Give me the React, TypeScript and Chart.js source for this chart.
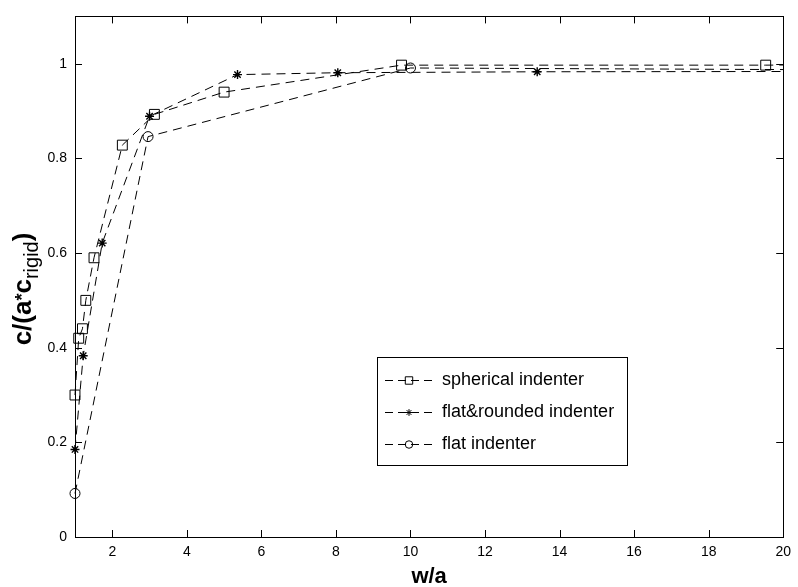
import React, { useEffect, useRef } from "react";
import { Chart, registerables } from "chart.js";

Chart.register(...registerables);

// ---- data ----
const seriesLabels = ["spherical indenter", "flat&rounded indenter", "flat indenter"];

const sphericalX = [1.0, 1.1, 1.2, 1.29, 1.51, 2.27, 3.13, 5.0, 9.76, 19.53, 25];
const sphericalY = [0.3, 0.42, 0.44, 0.5, 0.59, 0.828, 0.893, 0.94, 0.997, 0.997, 1.0];

const flatRoundedX = [1.0, 1.22, 1.73, 3.0, 5.36, 8.05, 13.4, 25];
const flatRoundedY = [0.185, 0.383, 0.621, 0.889, 0.977, 0.981, 0.983, 0.984];

const flatX = [1.0, 2.96, 10.0, 25];
const flatY = [0.092, 0.846, 0.991, 0.986];

const xTicks = [2, 4, 6, 8, 10, 12, 14, 16, 18, 20];
const yTicks = [0, 0.2, 0.4, 0.6, 0.8, 1];
const xRange = [1, 20];
const yRange = [0, 1.1];

const xTitle = "w/a";

const FONT = "'Liberation Sans', Arial, Helvetica, sans-serif";

function toPoints(xs: number[], ys: number[]) {
  return xs.map((x, i) => ({ x, y: ys[i] }));
}

function drawMarker(ctx: CanvasRenderingContext2D, style: string, r: number, x: number, y: number) {
  ctx.beginPath();
  if (style === "rect") {
    const s = r * Math.SQRT1_2;
    ctx.rect(x - s, y - s, 2 * s, 2 * s);
  } else if (style === "circle") {
    ctx.arc(x, y, r, 0, Math.PI * 2);
  } else if (style === "star") {
    for (let k = 0; k < 4; k++) {
      const a = (k * Math.PI) / 4;
      ctx.moveTo(x - Math.cos(a) * r, y - Math.sin(a) * r);
      ctx.lineTo(x + Math.cos(a) * r, y + Math.sin(a) * r);
    }
  }
  ctx.stroke();
}

const matlabPlugin = {
  id: "matlabDecor",
  afterDraw(chart: any) {
    const { ctx, chartArea: a, scales } = chart;
    const xs = scales.x;
    const ys = scales.y;
    ctx.save();
    ctx.strokeStyle = "#000";
    ctx.fillStyle = "#000";
    ctx.lineWidth = 1;
    ctx.setLineDash([]);
    // axes box
    ctx.strokeRect(Math.round(a.left) + 0.5, Math.round(a.top) + 0.5, Math.round(a.right - a.left), Math.round(a.bottom - a.top));
    // inward ticks on all four sides
    const tl = 7;
    ctx.beginPath();
    xTicks.forEach((v) => {
      const px = Math.round(xs.getPixelForValue(v)) + 0.5;
      ctx.moveTo(px, a.bottom);
      ctx.lineTo(px, a.bottom - tl);
      ctx.moveTo(px, a.top);
      ctx.lineTo(px, a.top + tl);
    });
    yTicks.forEach((v) => {
      const py = Math.round(ys.getPixelForValue(v)) + 0.5;
      ctx.moveTo(a.left, py);
      ctx.lineTo(a.left + tl, py);
      ctx.moveTo(a.right, py);
      ctx.lineTo(a.right - tl, py);
    });
    ctx.stroke();

    // x title
    ctx.font = `bold 22px ${FONT}`;
    ctx.textAlign = "center";
    ctx.textBaseline = "alphabetic";
    ctx.fillText(xTitle, (a.left + a.right) / 2, 583);

    // y title c/(a^* c_rigid)
    const parts = [
      { text: "c/(a", font: `bold 26px ${FONT}`, dy: 0 },
      { text: "*", font: `bold 18px ${FONT}`, dy: -3 },
      { text: "c", font: `bold 26px ${FONT}`, dy: 0 },
      { text: "rigid", font: `20px ${FONT}`, dy: 7 },
      { text: ")", font: `bold 26px ${FONT}`, dy: 0 },
    ];
    let total = 0;
    parts.forEach((p) => {
      ctx.font = p.font;
      total += ctx.measureText(p.text).width;
    });
    ctx.save();
    ctx.translate(31, 289);
    ctx.rotate(-Math.PI / 2);
    ctx.textAlign = "left";
    let cx = -total / 2;
    parts.forEach((p) => {
      ctx.font = p.font;
      ctx.fillText(p.text, cx, p.dy);
      cx += ctx.measureText(p.text).width;
    });
    ctx.restore();

    // legend box
    const lx = 377;
    const ly = 357;
    const boxW = 250;
    const boxH = 108;
    const rowY = [380, 412, 444];
    const textX = 442;
    ctx.fillStyle = "#fff";
    ctx.fillRect(lx, ly, boxW, boxH);
    ctx.strokeRect(lx + 0.5, ly + 0.5, boxW, boxH);
    ctx.fillStyle = "#000";
    ctx.font = `18px ${FONT}`;
    ctx.textAlign = "left";
    ctx.textBaseline = "middle";
    chart.data.datasets.forEach((ds: any, i: number) => {
      const cy = rowY[i] + 0.5;
      ctx.setLineDash([8, 5]);
      ctx.beginPath();
      ctx.moveTo(385, cy);
      ctx.lineTo(433, cy);
      ctx.stroke();
      ctx.setLineDash([]);
      drawMarker(ctx, ds.pointStyle, ds.pointRadius * 0.75, 409, cy);
      ctx.fillText(ds.label, textX, rowY[i]);
    });
    ctx.restore();
  },
};

export default function App() {
  const canvasRef = useRef<HTMLCanvasElement | null>(null);

  useEffect(() => {
    if (!canvasRef.current) return;
    const common = {
      showLine: true,
      borderColor: "#000",
      borderWidth: 1,
      borderDash: [9, 6],
      tension: 0,
      fill: false,
      pointBorderColor: "#000",
      pointBackgroundColor: "rgba(0,0,0,0)",
      pointBorderWidth: 1,
      clip: { left: 10, top: 10, right: 0, bottom: 10 },
    };
    const chart = new Chart(canvasRef.current, {
      type: "scatter",
      data: {
        datasets: [
          { ...common, label: seriesLabels[0], data: toPoints(sphericalX, sphericalY), pointStyle: "rect", pointRadius: 7 },
          { ...common, label: seriesLabels[1], data: toPoints(flatRoundedX, flatRoundedY), pointStyle: "star", pointRadius: 4.5, pointBorderWidth: 1.4 },
          { ...common, label: seriesLabels[2], data: toPoints(flatX, flatY), pointStyle: "circle", pointRadius: 5 },
        ],
      },
      options: {
        animation: false,
        responsive: false,
        devicePixelRatio: 1,
        layout: { padding: { left: 0, right: 10, top: 7, bottom: 0 } },
        plugins: { legend: { display: false }, tooltip: { enabled: false } },
        events: [],
        scales: {
          x: {
            type: "linear",
            min: xRange[0],
            max: xRange[1],
            grid: { display: false, drawTicks: false },
            border: { display: false },
            afterFit: (s: any) => {
              s.height = 50;
            },
            afterBuildTicks: (s: any) => {
              s.ticks = xTicks.map((v) => ({ value: v }));
            },
            ticks: {
              color: "#000",
              font: { family: FONT, size: 14 },
              padding: 7,
              maxRotation: 0,
              autoSkip: false,
              callback: (v: any) => String(v),
            },
          },
          y: {
            type: "linear",
            min: yRange[0],
            max: yRange[1],
            grid: { display: false, drawTicks: false },
            border: { display: false },
            afterFit: (s: any) => {
              s.width = 75;
            },
            afterBuildTicks: (s: any) => {
              s.ticks = yTicks.map((v) => ({ value: v }));
            },
            ticks: {
              color: "#000",
              font: { family: FONT, size: 14 },
              padding: 8,
              autoSkip: false,
              callback: (v: any) => String(Math.round(Number(v) * 10) / 10),
            },
          },
        },
      },
      plugins: [matlabPlugin],
    } as any);
    return () => chart.destroy();
  }, []);

  return (
    <div style={{ position: "fixed", left: 0, top: 0, width: 798, height: 587, background: "#fff" }}>
      <canvas ref={canvasRef} width={798} height={587} style={{ width: 798, height: 587, display: "block" }} />
    </div>
  );
}
